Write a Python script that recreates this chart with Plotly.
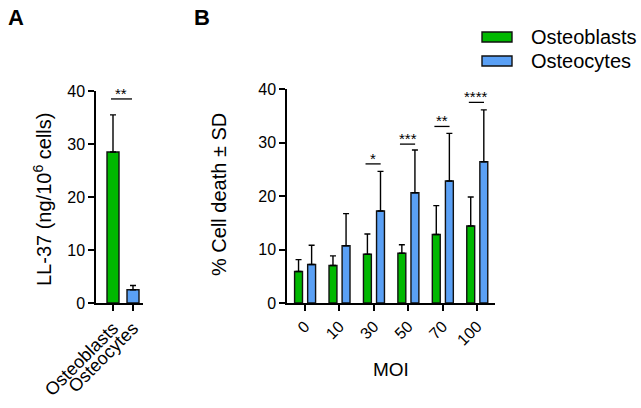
import plotly.graph_objects as go

# ---- Data ----
cells = ["Osteoblasts", "Osteocytes"]
ll37_mean = [28.5, 2.5]
ll37_sd = [7.0, 0.8]
ll37_sig_label = "**"
ll37_sig_y = 38.5

moi = ["0", "10", "30", "50", "70", "100"]
osteoblasts_death = [5.9, 7.0, 9.1, 9.3, 12.8, 14.4]
osteoblasts_sd = [2.2, 1.8, 3.8, 1.6, 5.4, 5.4]
osteocytes_death = [7.2, 10.7, 17.2, 20.6, 22.8, 26.4]
osteocytes_sd = [3.6, 6.0, 7.4, 8.0, 8.9, 9.7]

sig_moi = ["30", "50", "70", "100"]
sig_y = [26.0, 29.7, 33.0, 37.5]
sig_labels = ["*", "***", "**", "****"]

series_names = ["Osteoblasts", "Osteocytes"]
colors = ["#00B800", "#5AA0F5"]

FONT = "Arial, Liberation Sans, sans-serif"
W, H = 641, 408

def px(x):
    return x / W

def py(y):
    return 1 - y / H

fig = go.Figure()

# Panel A
fig.add_trace(go.Bar(
    x=cells, y=ll37_mean, width=0.6,
    marker=dict(color=colors, line=dict(color="#111111", width=1.4)),
    error_y=dict(type="data", array=ll37_sd, arrayminus=[0, 0], symmetric=False,
                 color="black", thickness=1.4, width=3),
    xaxis="x", yaxis="y", showlegend=False,
))

# Panel B
for name, vals, sd, col, off in [
    (series_names[0], osteoblasts_death, osteoblasts_sd, colors[0], -0.30),
    (series_names[1], osteocytes_death, osteocytes_sd, colors[1], 0.08),
]:
    fig.add_trace(go.Bar(
        x=moi, y=vals, width=0.23, offset=off, name=name,
        marker=dict(color=col, line=dict(color="#111111", width=1.4)),
        error_y=dict(type="data", array=sd, arrayminus=[0] * len(sd), symmetric=False,
                     color="black", thickness=1.4, width=3),
        xaxis="x2", yaxis="y2", showlegend=False,
    ))

axis_common = dict(showline=True, linecolor="black", linewidth=1.5, ticks="outside",
                   ticklen=6, tickwidth=1.5, tickcolor="black", showgrid=False,
                   zeroline=False, automargin=False)

def tf(size):
    return dict(family=FONT, size=size, color="black")

fig.update_layout(
    width=W, height=H, margin=dict(l=0, r=0, t=0, b=0, autoexpand=False),
    plot_bgcolor="white", paper_bgcolor="white",
    barmode="overlay", showlegend=False,
    xaxis=dict(domain=[px(96), px(143)], anchor="y", type="category", dtick=1,
               range=[-0.85, 1.5], tickangle=-45, tickfont=tf(18), **axis_common),
    yaxis=dict(domain=[py(303), py(91)], anchor="x", range=[0, 40],
               tickvals=[0, 10, 20, 30, 40], tickfont=tf(16), **axis_common),
    xaxis2=dict(domain=[px(287), px(495)], anchor="y2", type="category", dtick=1,
                range=[-0.52, 5.52], tickangle=-45, tickfont=tf(16), **axis_common),
    yaxis2=dict(domain=[py(303), py(89)], anchor="x2", range=[0, 40],
                tickvals=[0, 10, 20, 30, 40], tickfont=tf(16), **axis_common),
)

shapes = []
annotations = []

def ann(x, y, text, size, xref="paper", yref="paper", **kw):
    d = dict(x=x, y=y, xref=xref, yref=yref, text=text, showarrow=False,
             xanchor="center", yanchor="middle", font=tf(size))
    d.update(kw)
    annotations.append(d)

# Significance A
shapes.append(dict(type="line", xref="x", yref="y", x0=-0.1, x1=0.95,
                   y0=ll37_sig_y, y1=ll37_sig_y, line=dict(color="black", width=1.3)))
ann(0.42, ll37_sig_y, ll37_sig_label, 15, xref="x", yref="y", yanchor="bottom", yshift=-5)

# Significance B
for m, yv, lab in zip(sig_moi, sig_y, sig_labels):
    i = moi.index(m)
    shapes.append(dict(type="line", xref="x2", yref="y2", x0=i - 0.24, x1=i + 0.2,
                       y0=yv, y1=yv, line=dict(color="black", width=1.3)))
    ann(i - 0.02, yv, lab, 15, xref="x2", yref="y2", yanchor="bottom", yshift=-5)

# Axis titles
ann(px(42), py(200), "LL-37 (ng/10<sup>6</sup> cells)", 20, textangle=-90)
ann(px(219), py(195), "% Cell death ± SD", 20, textangle=-90)
ann(px(391), py(369), "MOI", 19)

# Panel letters
ann(px(16), py(18), "<b>A</b>", 22)
ann(px(202), py(18), "<b>B</b>", 22)

# Legend (manual)
for k, (name, col) in enumerate(zip(series_names, colors)):
    yc = 37 + k * 24
    shapes.append(dict(type="rect", xref="paper", yref="paper",
                       x0=px(482), x1=px(512), y0=py(yc - 5), y1=py(yc + 5),
                       fillcolor=col, line=dict(color="#111111", width=1.4)))
    ann(px(529), py(yc), name, 20, xanchor="left")

fig.update_layout(shapes=shapes, annotations=annotations)
fig.write_html("out.html", config={"displayModeBar": False},
               post_script="document.body.style.margin='0';")
